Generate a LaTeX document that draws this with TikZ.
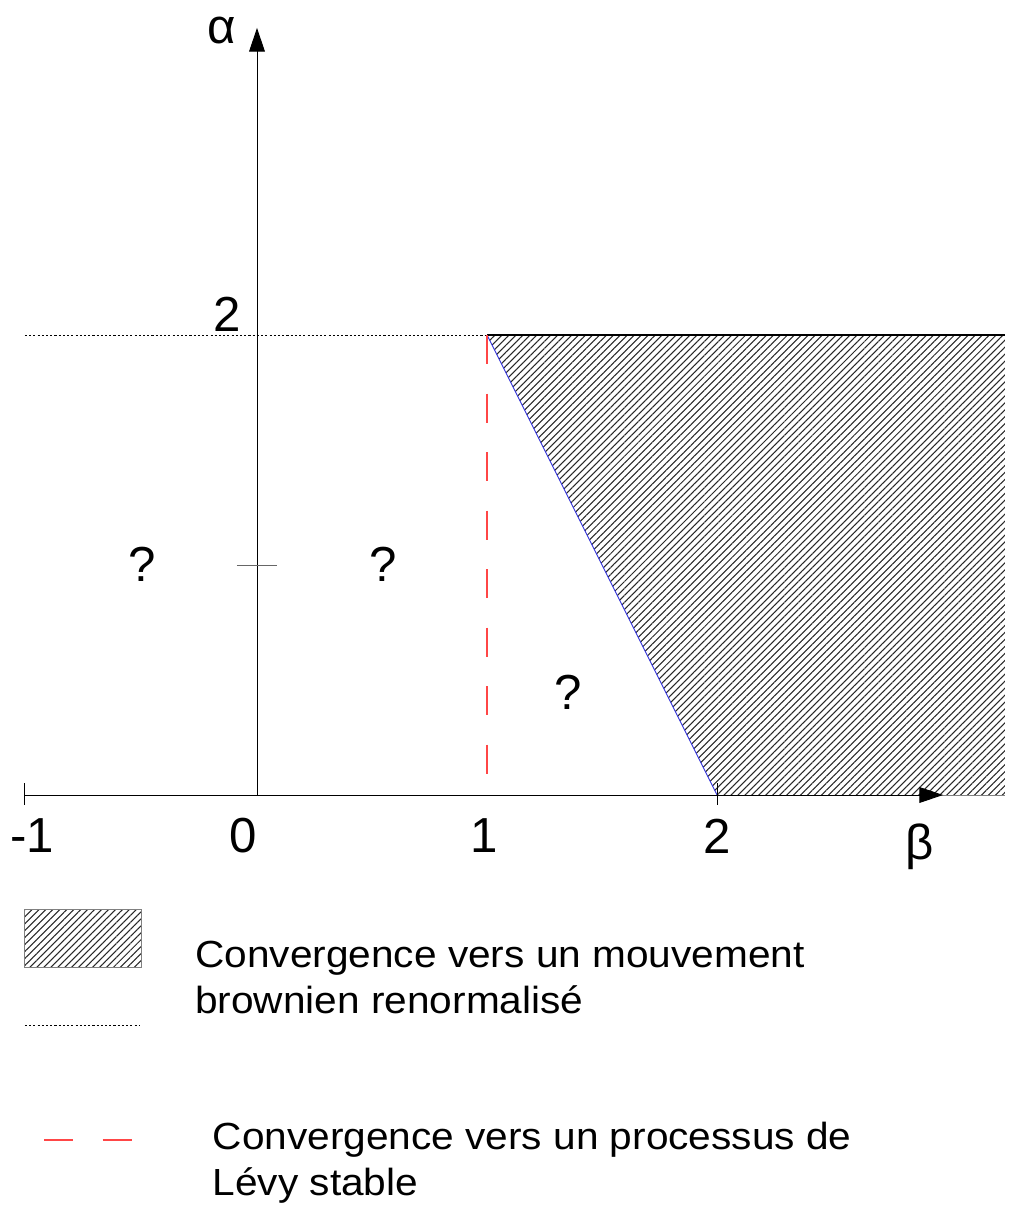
\documentclass[tikz,border=0pt]{standalone}
\usepackage{fontspec}
\setmainfont{Liberation Sans}
\newfontfamily\legendfont[FakeStretch=1.075]{Liberation Sans}
\usetikzlibrary{arrows.meta,patterns.meta}
\definecolor{hatchgray}{RGB}{40,40,40}
\definecolor{levyred}{RGB}{255,70,70}
\definecolor{brownblue}{RGB}{50,50,220}

\begin{document}
\begin{tikzpicture}[x=4.6cm,y=4.6cm,
  axis/.style={line width=0.55pt, -{Triangle[length=13.5pt,width=9pt]}},
  ticklabel/.style={font=\fontsize{28}{34}\selectfont, inner sep=0pt},
  legendtext/.style={font=\legendfont\fontsize{21.5}{26.2}\selectfont, align=left, anchor=north west, inner sep=0pt},
  hatch/.style={pattern={Lines[angle=45,distance=2.8pt,line width=0.6pt]}, pattern color=hatchgray},
  dotline/.style={line width=0.5pt, dash pattern=on 1.2pt off 1.2pt},
  levyline/.style={levyred, line width=0.6pt, dash pattern=on 16.5pt off 16.8pt}
]

% Background
\fill[white] (-1.1174,-1.7870) rectangle (3.2783,3.4565);
\useasboundingbox (-1.1174,-1.7870) rectangle (3.2783,3.4565);

% Hatched region
\fill[hatch] (1,2) -- (2,0) -- (3.252,0) -- (3.252,2) -- cycle;
\draw[line width=0.6pt] (1,2) -- (3.252,2);
\draw[line width=0.5pt, gray] (2,0) -- (3.252,0);
\draw[brownblue, line width=0.5pt] (1,2) -- (2,0);

% alpha = 2 and beta = 1
\draw[dotline] (-1.009,2) -- (1,2);
\draw[levyline] (1,2) -- (1,0);

% Axes
\draw[axis] (-1.009,0) -- (2.983,0); % beta
\draw[axis] (0,0) -- (0,3.335); % alpha

% Ticks
\foreach \x in {-1.009,2} {
    \draw[line width=0.5pt] (\x,0.052) -- (\x,-0.043);
}
\draw[line width=0.5pt, black!60] (-0.087,1) -- (0.087,1);

% Labels
\node[ticklabel] (alpha) at (-0.154,3.326) {α};
\node[ticklabel] (beta) at (2.883,-0.226) {β};
\node[ticklabel] (atwo) at (-0.13,2.089) {2};
\foreach \x/\val/\name in {-0.978/-1/bm1, -0.059/0/b0, 0.987/1/b1, 2.0/2/b2} {
    \node[ticklabel] (\name) at (\x,-0.178) {\val};
}

% Unknown regions
\foreach \x/\y/\name in {-0.5/1.004/qleft, 0.548/1.004/qmid, 1.352/0.448/qlow} {
    \node[ticklabel] (\name) at (\x,\y) {?};
}

% Legend
\fill[hatch] (-1.009,-0.496) rectangle (-0.504,-0.748);
\draw[line width=0.5pt, gray] (-1.009,-0.496) rectangle (-0.504,-0.748);
\draw[dotline] (-1.009,-1.0) -- (-0.509,-1.0);
\draw[levyline] (-0.926,-1.5) -- (-0.543,-1.5);

\node[legendtext] (brown) at (-0.27,-0.635) {Convergence vers un mouvement\\brownien renormalisé};
\node[legendtext] (levy) at (-0.194,-1.42) {Convergence vers un processus de\\Lévy stable};

\end{tikzpicture}
\end{document}
